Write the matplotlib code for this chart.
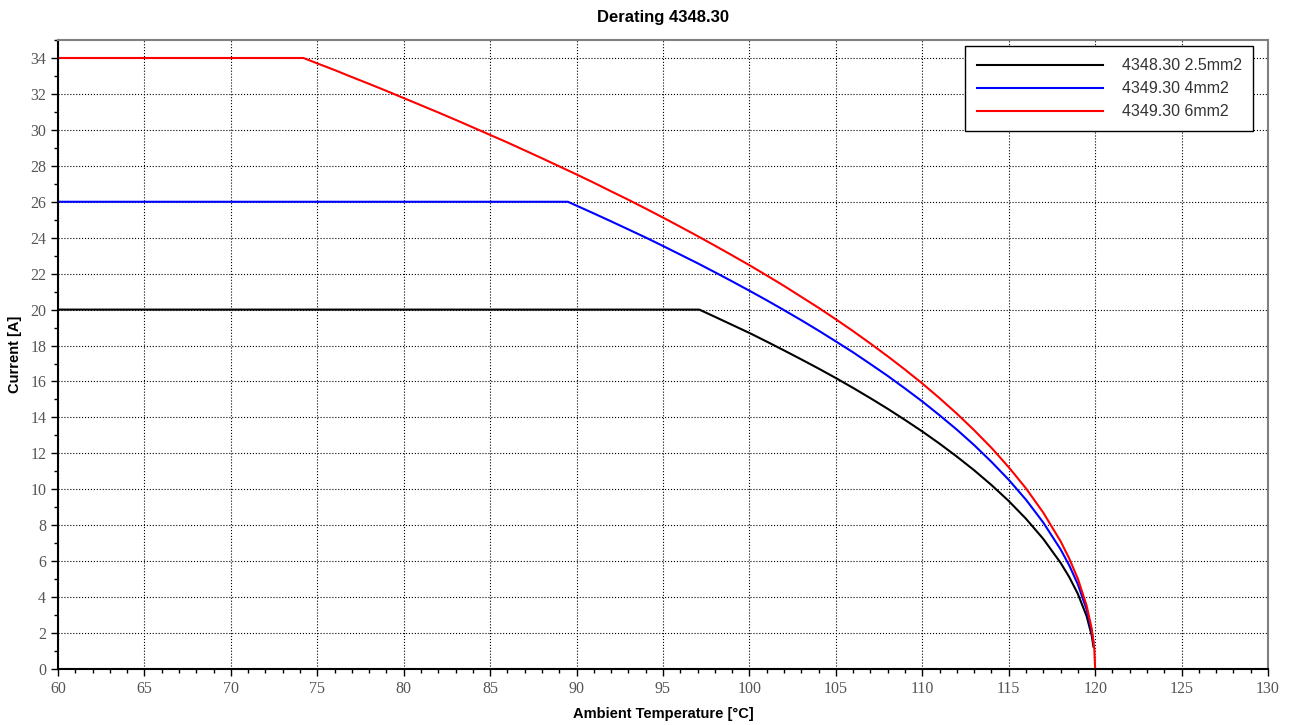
import matplotlib
matplotlib.use("Agg")
import matplotlib.pyplot as plt
from matplotlib.ticker import MultipleLocator

# values
temp_black = [60, 97.1, 98, 99, 100, 101, 102, 103, 104, 105, 106, 107, 108, 109, 110,
              111, 112, 113, 114, 115, 116, 117, 118, 118.5, 119, 119.5, 119.8, 119.9]
cur_black = [20, 20, 19.6, 19.15, 18.7, 18.22, 17.73, 17.23, 16.72, 16.19, 15.64, 15.07,
             14.48, 13.86, 13.22, 12.54, 11.82, 11.06, 10.24, 9.35, 8.36, 7.24, 5.91,
             5.12, 4.18, 2.96, 1.87, 1.25]

temp_blue = [60, 89.5, 91, 92, 93, 94, 95, 96, 97, 98, 99, 100, 101, 102, 103, 104, 105,
             106, 107, 108, 109, 110, 111, 112, 113, 114, 115, 116, 117, 118, 118.5, 119,
             119.5, 119.8, 119.9]
cur_blue = [26, 26, 25.35, 24.91, 24.46, 24.01, 23.54, 23.06, 22.58, 22.08, 21.57, 21.05,
            20.52, 19.97, 19.41, 18.83, 18.23, 17.62, 16.97, 16.31, 15.61, 14.89, 14.12,
            13.32, 12.46, 11.53, 10.53, 9.42, 8.15, 6.66, 5.77, 4.71, 3.33, 2.11, 1.5]

temp_red = [60, 74.2, 75, 76, 77, 78, 79, 80, 81, 82, 83, 84, 85, 86, 87, 88, 89, 90, 91,
            92, 93, 94, 95, 96, 97, 98, 99, 100, 101, 102, 103, 104, 105, 106, 107, 108,
            109, 110, 111, 112, 113, 114, 115, 116, 117, 118, 118.5, 119, 119.5, 119.8,
            119.95, 120]
cur_red = [34, 34, 33.7, 33.33, 32.94, 32.56, 32.17, 31.77, 31.37, 30.97, 30.56, 30.14,
           29.72, 29.3, 28.86, 28.42, 27.97, 27.52, 27.06, 26.58, 26.11, 25.62, 25.12,
           24.61, 24.09, 23.56, 23.02, 22.47, 21.9, 21.32, 20.71, 20.1, 19.46, 18.8,
           18.11, 17.4, 16.66, 15.89, 15.07, 14.21, 13.29, 12.31, 11.23, 10.05, 8.7,
           7.11, 6.15, 5.02, 3.55, 2.25, 1.12, 0]

labels = ["4348.30 2.5mm2", "4349.30 4mm2", "4349.30 6mm2"]

fig = plt.figure(figsize=(12.91, 7.25), dpi=100)
ax = fig.add_axes([0.0449, 0.0772, 0.9373, 0.8676])

ax.plot(temp_black, cur_black, color="black", lw=1.5, label=labels[0])
ax.plot(temp_blue, cur_blue, color="blue", lw=1.5, label=labels[1])
ax.plot(temp_red, cur_red, color="red", lw=1.5, label=labels[2])

ax.set_xlim(60, 130)
ax.set_ylim(0, 35)
ax.xaxis.set_major_locator(MultipleLocator(5))
ax.xaxis.set_minor_locator(MultipleLocator(1))
ax.yaxis.set_major_locator(MultipleLocator(2))
ax.yaxis.set_minor_locator(MultipleLocator(1))
ax.grid(True, which="major", color="black", linestyle=":", linewidth=0.8)
ax.set_axisbelow(True)

ax.tick_params(which="major", direction="out", length=5, width=1, colors="black",
               labelcolor="#555555", labelsize=11.5)
ax.tick_params(which="minor", direction="out", length=3, width=1, colors="black")
for lab in ax.get_xticklabels() + ax.get_yticklabels():
    lab.set_family("Liberation Serif")

for side in ("left", "bottom"):
    ax.spines[side].set_color("black")
    ax.spines[side].set_linewidth(1.5)
for side in ("top", "right"):
    ax.spines[side].set_color("#808080")
    ax.spines[side].set_linewidth(1.5)

ax.set_title("Derating 4348.30", fontsize=12, fontweight="bold",
             family="Liberation Sans", pad=13)
ax.set_xlabel("Ambient Temperature [°C]", fontsize=10.5, fontweight="bold",
              family="Liberation Sans", labelpad=7)
ax.set_ylabel("Current [A]", fontsize=10.5, fontweight="bold",
              family="Liberation Sans", labelpad=6)

leg = ax.legend(loc="upper right", bbox_to_anchor=(0.988, 0.99), fancybox=False,
                framealpha=1, edgecolor="black", handlelength=7.9, handletextpad=1.15,
                borderpad=0.75, labelspacing=0.5, borderaxespad=0,
                prop={"family": "Liberation Sans", "size": 11.5})
leg.get_frame().set_linewidth(1.0)
for t in leg.get_texts():
    t.set_color("#333333")

fig.savefig("out.png", dpi=100)
